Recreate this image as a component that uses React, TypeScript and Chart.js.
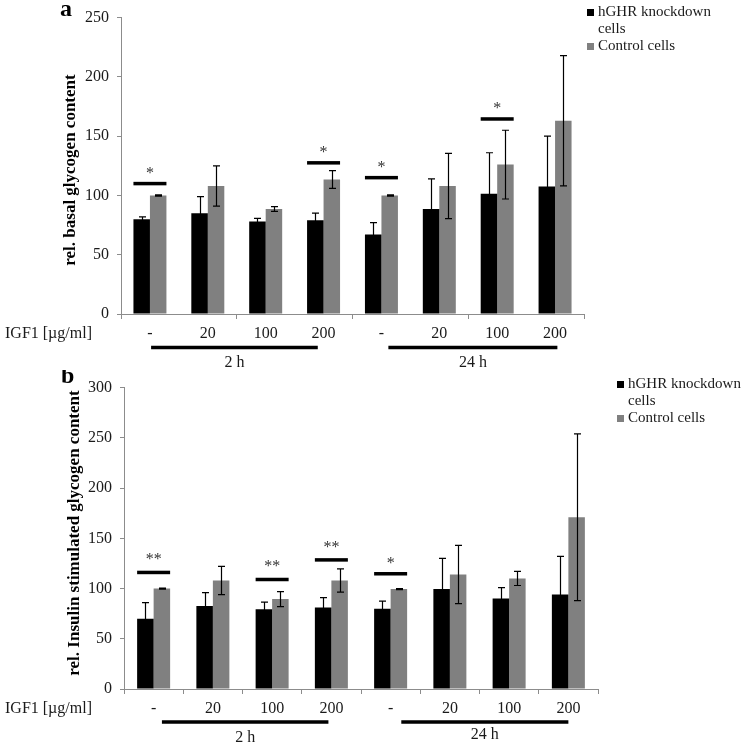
import React, { useEffect, useRef } from "react";
import { Chart, registerables } from "chart.js";

Chart.register(...registerables);

// ---------- data ----------
const categories = ["-", "20", "100", "200", "-", "20", "100", "200"];
const seriesNames = ["hGHR knockdown cells", "Control cells"];
const groupLabels = ["2 h", "24 h"];
const xAxisCaption = "IGF1 [µg/ml]";

// panel a: basal glycogen
const basalKnockdown = [80, 85, 78, 79, 67, 88.5, 101.5, 107.5];
const basalKnockdownErr = [2, 14, 2.6, 6, 10, 25.5, 34.5, 42.5];
const basalControl = [100, 108, 88.5, 113.5, 100, 108, 126, 163];
const basalControlErr = [0.5, 17, 2, 7.5, 0.5, 27.5, 29, 55];
const basalSigIndex = [0, 3, 4, 6];
const basalSigLevel = [110, 127.5, 115, 164.5];
const basalSigMark = ["*", "*", "*", "*"];
const basalYTicks = [0, 50, 100, 150, 200, 250];

// panel b: insulin stimulated glycogen
const insulinKnockdown = [70, 82.5, 79.5, 81, 80, 99.5, 90, 94];
const insulinKnockdownErr = [16, 13.5, 7, 10, 7.5, 30.5, 11, 38];
const insulinControl = [100, 108, 89.5, 108, 99.5, 114, 110, 171];
const insulinControlErr = [0.5, 14, 7.5, 11.5, 0.5, 29, 7, 83];
const insulinSigIndex = [0, 2, 3, 4];
const insulinSigLevel = [116, 109, 128.5, 114.7];
const insulinSigMark = ["**", "**", "**", "*"];
const insulinYTicks = [0, 50, 100, 150, 200, 250, 300];

const SERIF = '"Liberation Serif", "Times New Roman", serif';
const TEXT = "#1a1a1a";
const AXIS = "#8c8c8c";

type PanelCfg = {
  letter: string;
  yTitle: string;
  knock: number[];
  knockErr: number[];
  ctrl: number[];
  ctrlErr: number[];
  sigIndex: number[];
  sigLevel: number[];
  sigMark: string[];
  yTicks: number[];
  height: number;
  axisX: number;
  rightPad: number;
  tickEvery: number;
  catPct: number;
  titleX: number;
  titleY: number;
  letterX: number;
  letterY: number;
  legendX: number;
  legendY: number;
  captionY: number;
  underlineY: number;
  groupRanges: number[][];
  groupLabelY: number[];
};

const panelA: PanelCfg = {
  letter: "a",
  yTitle: "rel. basal glycogen content",
  knock: basalKnockdown,
  knockErr: basalKnockdownErr,
  ctrl: basalControl,
  ctrlErr: basalControlErr,
  sigIndex: basalSigIndex,
  sigLevel: basalSigLevel,
  sigMark: basalSigMark,
  yTicks: basalYTicks,
  height: 370,
  axisX: 121,
  rightPad: 166,
  tickEvery: 2,
  catPct: 0.57,
  titleX: 71,
  titleY: 170,
  letterX: 60,
  letterY: 16,
  legendX: 587,
  legendY: 12,
  captionY: 334,
  underlineY: 347.5,
  groupRanges: [[0.02, 2.9], [4.12, 7.04]],
  groupLabelY: [363, 363],
};

const panelB: PanelCfg = {
  letter: "b",
  yTitle: "rel. Insulin stimulated glycogen content",
  knock: insulinKnockdown,
  knockErr: insulinKnockdownErr,
  ctrl: insulinControl,
  ctrlErr: insulinControlErr,
  sigIndex: insulinSigIndex,
  sigLevel: insulinSigLevel,
  sigMark: insulinSigMark,
  yTicks: insulinYTicks,
  height: 375,
  axisX: 124,
  rightPad: 152,
  tickEvery: 1,
  catPct: 0.557,
  titleX: 75,
  titleY: 163,
  letterX: 61,
  letterY: 13,
  legendX: 617,
  legendY: 14,
  captionY: 339,
  underlineY: 352,
  groupRanges: [[0.14, 2.95], [4.18, 7.0]],
  groupLabelY: [368, 365],
};

function makeChart(canvas: HTMLCanvasElement, p: PanelCfg) {
  const xHeight = 56;
  const annot = {
    id: "annot-" + p.letter,
    afterDatasetsDraw(chart: any) {
      const ctx = chart.ctx as CanvasRenderingContext2D;
      const ys = chart.scales.y;
      const m0 = chart.getDatasetMeta(0);
      const m1 = chart.getDatasetMeta(1);
      // error bars
      const sets = [
        { meta: m0, v: p.knock, e: p.knockErr },
        { meta: m1, v: p.ctrl, e: p.ctrlErr },
      ];
      ctx.save();
      ctx.strokeStyle = "#000";
      ctx.lineWidth = 1.2;
      for (const s of sets) {
        s.meta.data.forEach((el: any, i: number) => {
          const x = Math.round(el.x) + 0.5;
          const yt = ys.getPixelForValue(s.v[i] + s.e[i]);
          const yb = ys.getPixelForValue(s.v[i] - s.e[i]);
          ctx.beginPath();
          ctx.moveTo(x, yt);
          ctx.lineTo(x, yb);
          ctx.moveTo(x - 3.5, yt);
          ctx.lineTo(x + 3.5, yt);
          ctx.moveTo(x - 3.5, yb);
          ctx.lineTo(x + 3.5, yb);
          ctx.stroke();
        });
      }
      // significance bars
      p.sigIndex.forEach((ci, k) => {
        const b0: any = m0.data[ci];
        const b1: any = m1.data[ci];
        const l = b0.x - b0.width / 2;
        const r = b1.x + b1.width / 2;
        const y = ys.getPixelForValue(p.sigLevel[k]);
        ctx.fillStyle = "#000";
        ctx.fillRect(l, y - 1.75, r - l, 3.5);
        ctx.fillStyle = "#333";
        ctx.font = "16px " + SERIF;
        ctx.textAlign = "center";
        ctx.textBaseline = "alphabetic";
        const off = p.sigMark[k].length > 1 ? 8 : 6;
        ctx.fillText(p.sigMark[k], (l + r) / 2, y - off);
      });
      ctx.restore();
    },
    afterDraw(chart: any) {
      const ctx = chart.ctx as CanvasRenderingContext2D;
      const xs = chart.scales.x;
      const ca = chart.chartArea;
      const cw = (ca.right - ca.left) / categories.length;
      ctx.save();
      // panel letter
      ctx.fillStyle = "#000";
      ctx.font = "bold 24px " + SERIF;
      ctx.textAlign = "left";
      ctx.textBaseline = "alphabetic";
      ctx.fillText(p.letter, p.letterX, p.letterY);
      // y title
      ctx.save();
      ctx.translate(p.titleX, p.titleY);
      ctx.rotate(-Math.PI / 2);
      ctx.font = "bold 17px " + SERIF;
      ctx.textAlign = "center";
      ctx.textBaseline = "middle";
      ctx.fillStyle = "#000";
      ctx.fillText(p.yTitle, 0, 0);
      ctx.restore();
      // legend
      ctx.font = "15px " + SERIF;
      ctx.textAlign = "left";
      ctx.textBaseline = "middle";
      const colors = ["#000000", "#808080"];
      const tx = p.legendX + 11;
      ctx.fillStyle = colors[0];
      ctx.fillRect(p.legendX, p.legendY - 3, 7, 7);
      ctx.fillStyle = TEXT;
      ctx.fillText("hGHR knockdown", tx, p.legendY);
      ctx.fillText("cells", tx, p.legendY + 17);
      ctx.fillStyle = colors[1];
      ctx.fillRect(p.legendX, p.legendY + 34 - 3, 7, 7);
      ctx.fillStyle = TEXT;
      ctx.fillText(seriesNames[1], tx, p.legendY + 34);
      // x caption
      ctx.font = "16px " + SERIF;
      ctx.textBaseline = "middle";
      ctx.fillText(xAxisCaption, 5, p.captionY);
      // group underlines and labels
      p.groupRanges.forEach((g, k) => {
        const x0 = xs.left + (g[0] + 0.5) * cw;
        const x1 = xs.left + (g[1] + 0.5) * cw;
        ctx.fillStyle = "#000";
        ctx.fillRect(x0, p.underlineY - 1.75, x1 - x0, 3.5);
        ctx.fillStyle = TEXT;
        ctx.textAlign = "center";
        ctx.fillText(groupLabels[k], (x0 + x1) / 2, p.groupLabelY[k]);
      });
      ctx.restore();
    },
  };

  return new Chart(canvas, {
    type: "bar",
    data: {
      labels: categories,
      datasets: [
        {
          label: seriesNames[0],
          data: p.knock,
          backgroundColor: "#000000",
          borderWidth: 0,
          categoryPercentage: p.catPct,
          barPercentage: 1,
        },
        {
          label: seriesNames[1],
          data: p.ctrl,
          backgroundColor: "#808080",
          borderWidth: 0,
          categoryPercentage: p.catPct,
          barPercentage: 1,
        },
      ],
    },
    options: {
      responsive: false,
      animation: false,
      devicePixelRatio: 1,
      layout: { padding: { left: 0, top: 8, right: p.rightPad, bottom: 0 } },
      plugins: { legend: { display: false }, tooltip: { enabled: false }, title: { display: false } },
      scales: {
        x: {
          type: "category",
          grid: {
            display: true,
            drawOnChartArea: false,
            drawTicks: true,
            tickLength: 5,
            offset: true,
            color: (c: any) =>
              c.index === undefined || c.index % p.tickEvery === 0 ? AXIS : "rgba(0,0,0,0)",
          },
          border: { display: true, color: AXIS, width: 1 },
          ticks: {
            color: TEXT,
            font: { family: SERIF, size: 16 },
            padding: 5,
            maxRotation: 0,
            autoSkip: false,
          },
          afterFit: (s: any) => {
            s.height = xHeight;
          },
        },
        y: {
          min: 0,
          max: p.yTicks[p.yTicks.length - 1],
          afterBuildTicks: (s: any) => {
            s.ticks = p.yTicks.map((v) => ({ value: v }));
          },
          grid: { display: true, drawOnChartArea: false, drawTicks: true, tickLength: 4, color: AXIS },
          border: { display: true, color: AXIS, width: 1 },
          ticks: {
            color: TEXT,
            font: { family: SERIF, size: 16 },
            padding: 8,
          },
          afterFit: (s: any) => {
            s.width = p.axisX;
          },
        },
      },
    },
    plugins: [annot],
  } as any);
}

function Panel({ cfg, top }: { cfg: PanelCfg; top: number }) {
  const ref = useRef<HTMLCanvasElement | null>(null);
  useEffect(() => {
    if (!ref.current) return;
    const chart = makeChart(ref.current, cfg);
    return () => chart.destroy();
  }, [cfg]);
  return (
    <canvas
      ref={ref}
      width={750}
      height={cfg.height}
      style={{ position: "absolute", left: 0, top, width: 750, height: cfg.height, display: "block" }}
    />
  );
}

export default function App() {
  return (
    <div
      style={{
        position: "absolute",
        left: 0,
        top: 0,
        width: 750,
        height: 745,
        background: "#ffffff",
        overflow: "hidden",
      }}
    >
      <Panel cfg={panelA} top={0} />
      <Panel cfg={panelB} top={370} />
    </div>
  );
}
